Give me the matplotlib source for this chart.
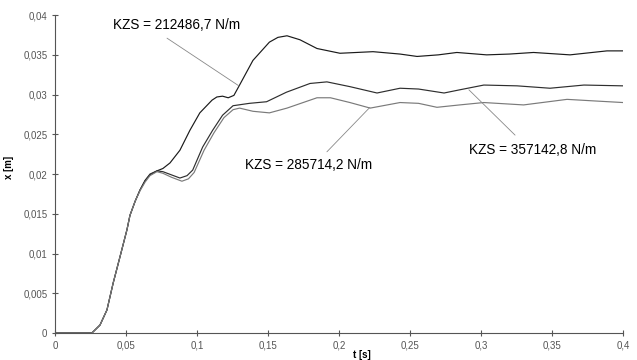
import numpy as np
import matplotlib.pyplot as plt
from matplotlib.ticker import FuncFormatter

plt.rcParams['font.family'] = ['Liberation Sans', 'DejaVu Sans']

# displacement x [m] over time t [s] for three spring stiffnesses
t_a = [0.0, 0.026, 0.0317, 0.0366, 0.041, 0.0458, 0.0507, 0.0528, 0.0565, 0.0599, 0.0635,
       0.0669, 0.0718, 0.076, 0.081, 0.088, 0.095, 0.102, 0.1106, 0.114, 0.118, 0.122,
       0.126, 0.130, 0.1394, 0.151, 0.157, 0.1634, 0.1725, 0.1845, 0.2007, 0.224, 0.243,
       0.255, 0.27, 0.283, 0.304, 0.32, 0.337, 0.3627, 0.3887, 0.4]
x_a = [0.0, 0.0, 0.0010, 0.0029, 0.0063, 0.0096, 0.0130, 0.0148, 0.0166, 0.0180, 0.0192,
       0.0199, 0.0204, 0.0207, 0.0214, 0.0230, 0.0255, 0.0277, 0.0293, 0.0297, 0.0298, 0.0296,
       0.0299, 0.0312, 0.0343, 0.0366, 0.0372, 0.0374, 0.0369, 0.0358, 0.0352, 0.0354, 0.0351,
       0.0348, 0.0350, 0.0353, 0.0350, 0.0351, 0.0353, 0.0350, 0.0355, 0.0355]

t_b = [0.0, 0.026, 0.0317, 0.0366, 0.041, 0.0458, 0.0507, 0.0528, 0.0565, 0.0599, 0.0635,
       0.0669, 0.0718, 0.076, 0.082, 0.088, 0.093, 0.097, 0.104, 0.111, 0.118, 0.1254,
       0.137, 0.149, 0.163, 0.1796, 0.1915, 0.2077, 0.2268, 0.243, 0.256, 0.274, 0.285,
       0.302, 0.3254, 0.3486, 0.3725, 0.4]
x_b = [0.0, 0.0, 0.0010, 0.0029, 0.0063, 0.0096, 0.0130, 0.0148, 0.0166, 0.0180, 0.0192,
       0.0200, 0.0204, 0.0203, 0.0199, 0.0195, 0.0198, 0.0205, 0.0234, 0.0255, 0.0274, 0.0286,
       0.0289, 0.0291, 0.0303, 0.0314, 0.0316, 0.0310, 0.0302, 0.0308, 0.0307, 0.0302, 0.0306,
       0.0312, 0.0311, 0.0308, 0.0312, 0.0311]

t_c = [0.0, 0.026, 0.0317, 0.0366, 0.041, 0.0458, 0.0507, 0.0528, 0.0565, 0.0599, 0.0635,
       0.0669, 0.0718, 0.076, 0.082, 0.0894, 0.094, 0.098, 0.105, 0.112, 0.119, 0.1254,
       0.130, 0.1394, 0.151, 0.1634, 0.1845, 0.194, 0.2077, 0.222, 0.243, 0.256, 0.269,
       0.285, 0.302, 0.330, 0.3606, 0.38, 0.4]
x_c = [0.0, 0.0, 0.0010, 0.0029, 0.0063, 0.0096, 0.0130, 0.0148, 0.0166, 0.0179, 0.0190,
       0.0198, 0.0203, 0.0201, 0.0196, 0.0191, 0.0194, 0.0202, 0.0230, 0.0252, 0.0271, 0.0281,
       0.0283, 0.0279, 0.0277, 0.0283, 0.0296, 0.0296, 0.0290, 0.0283, 0.0290, 0.0289, 0.0284,
       0.0287, 0.0290, 0.0287, 0.0294, 0.0292, 0.0290]

labels = ['KZS = 212486,7 N/m', 'KZS = 357142,8 N/m', 'KZS = 285714,2 N/m']

fig = plt.figure(figsize=(6.37, 3.6), dpi=100)
ax = fig.add_axes([0.0863, 0.075, 0.8917, 0.883])

ax.plot(t_a, x_a, color='#1a1a1a', lw=0.85)
ax.plot(t_b, x_b, color='#2e2e2e', lw=0.85)
ax.plot(t_c, x_c, color='#7a7a7a', lw=0.85)

ax.set_xlim(0, 0.4)
ax.set_ylim(0, 0.04)
ax.set_xticks(np.arange(0, 0.401, 0.05))
ax.set_yticks(np.arange(0, 0.0401, 0.005))

comma = FuncFormatter(lambda v, p: ('%g' % round(v, 4)).replace('.', ','))
ax.xaxis.set_major_formatter(comma)
ax.yaxis.set_major_formatter(comma)
ax.tick_params(direction='inout', length=4, width=0.8, colors='#555555',
               labelsize=7, labelcolor='#555555')

for s in ['top', 'right']:
    ax.spines[s].set_visible(False)
for s in ['left', 'bottom']:
    ax.spines[s].set_color('#555555')
    ax.spines[s].set_linewidth(0.8)

ax.set_xlabel('t [s]', fontsize=7, fontweight='bold')
ax.xaxis.set_label_coords(0.54, -0.055)
ax.set_ylabel('x [m]', fontsize=7, fontweight='bold')
ax.yaxis.set_label_coords(-0.072, 0.52)

# leader lines from the labels to their curves
lead = dict(arrowstyle='-', color='#888888', lw=0.6, shrinkA=0, shrinkB=0)
ax.annotate('', xy=(0.1295, 0.0311), xytext=(0.0789, 0.0371), arrowprops=lead)
ax.annotate('', xy=(0.2218, 0.0284), xytext=(0.1915, 0.0228), arrowprops=lead)
ax.annotate('', xy=(0.2915, 0.0306), xytext=(0.324, 0.0249), arrowprops=lead)

ax.text(0.0408, 0.0387, labels[0], fontsize=9.8, va='center', ha='left')
ax.text(0.2915, 0.0230, labels[1], fontsize=9.8, va='center', ha='left')
ax.text(0.1338, 0.0211, labels[2], fontsize=9.8, va='center', ha='left')

fig.savefig('out.png', dpi=100)
